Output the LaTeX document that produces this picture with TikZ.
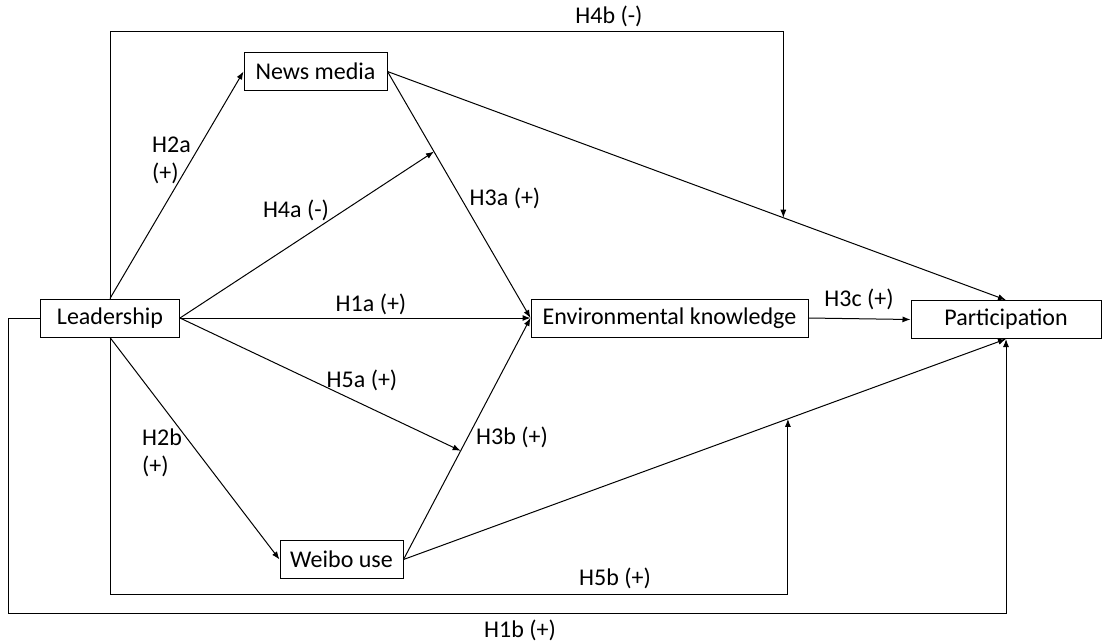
\documentclass[tikz,border=0pt]{standalone}
\usepackage{fontspec}
\setmainfont{Carlito}
\usetikzlibrary{arrows.meta,calc}
\tikzset{
  var/.style={draw,line width=1pt,inner sep=0pt,minimum height=38pt,font=\fontsize{24}{28}\selectfont},
  hyp/.style={inner sep=0pt,align=left,font=\fontsize{24}{28}\selectfont},
  link/.style={line width=1pt,-{Latex[length=8pt,width=6pt]}}
}
\begin{document}
\begin{tikzpicture}[x=1pt,y=-1pt]
\useasboundingbox (0,0) rectangle (1102,642);

\node[var,minimum width=139pt] (lead)  at (110,318)     {Leadership};
\node[var,minimum width=143pt] (news)  at (315.5,71.5)  {News media};
\node[var,minimum width=277pt] (know)  at (669.5,318)   {Environmental knowledge};
\node[var,minimum width=190pt] (part)  at (1006,319.5)  {Participation};
\node[var,minimum width=123pt] (weibo) at (341.5,559.5) {Weibo use};

\coordinate (m1) at ($(news.east)!0.325!(know.west)$);
\coordinate (m2) at ($(weibo.east)!0.45!(know.west)$);
\coordinate (m3) at ($(news.east)!0.64!(part.north)$);
\coordinate (m4) at ($(weibo.east)!0.638!(part.south)$);
\coordinate (top) at (0,32);
\coordinate (bot) at (0,594);
\coordinate (low) at (8,613);

\draw[link] (lead.north) -- (news.west);
\draw[link] (lead.east)  -- (m1);
\draw[link] (lead.east)  -- (know.west);
\draw[link] (lead.east)  -- (m2);
\draw[link] (lead.south) -- (weibo.west);
\draw[link] (news.east)  -- (know.west);
\draw[link] (news.east)  -- (part.north);
\draw[link] (weibo.east) -- (know.west);
\draw[link] (weibo.east) -- (part.south);
\draw[link] (know.east)  -- (part.west);

\draw[link] (lead.north) |- (m3 |- top) -- (m3);
\draw[link] (lead.south) |- (m4 |- bot) -- (m4);
\draw[link] (lead.west) -| (low) -| (part.south);

\node[hyp,anchor=west] (l2a) at (152,160) {H2a\\(+)};
\node[hyp,anchor=west] (l2b) at (142,453) {H2b\\(+)};
\node[hyp] (l4a) at (296,210) {H4a (-)};
\node[hyp] (l4b) at (609,16)  {H4b (-)};
\node[hyp] (l1a) at (371,304) {H1a (+)};
\node[hyp] (l3a) at (505,198) {H3a (+)};
\node[hyp] (l5a) at (362,380) {H5a (+)};
\node[hyp] (l3b) at (512,437) {H3b (+)};
\node[hyp] (l3c) at (859,299) {H3c (+)};
\node[hyp] (l5b) at (615,578) {H5b (+)};
\node[hyp] (l1b) at (520,630) {H1b (+)};
\end{tikzpicture}
\end{document}
